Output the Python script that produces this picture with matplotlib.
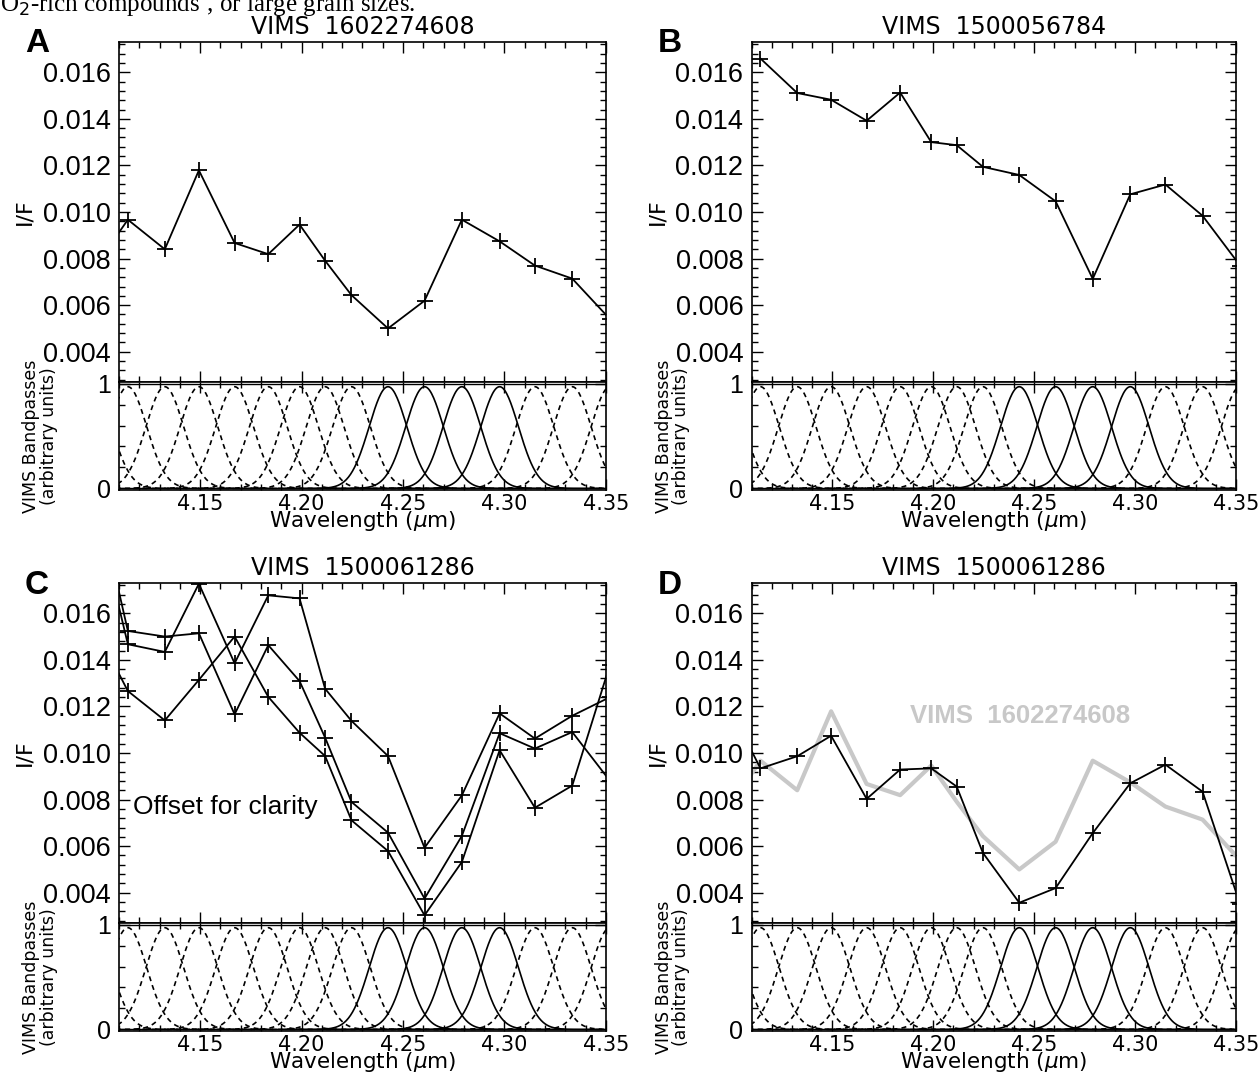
import numpy as np
import matplotlib.pyplot as plt
from matplotlib.ticker import MultipleLocator

plt.rcParams['font.family'] = ['Liberation Sans', 'DejaVu Sans']
plt.rcParams['mathtext.fontset'] = 'dejavusans'

# VIMS channel centres (um); first and last fall just outside the plotted range
wavelength = [4.0970, 4.1144, 4.1326, 4.1494, 4.1670, 4.1836, 4.1990, 4.2116,
              4.2246, 4.2426, 4.2606, 4.2790, 4.2976, 4.3150, 4.3334, 4.3520]
# which bandpasses are drawn solid (the CO2 band channels)
solid_band = [0, 0, 0, 0, 0, 0, 0, 0, 0, 1, 1, 1, 1, 0, 0, 0]

if_1602274608 = [0.0075, 0.00967, 0.0084, 0.01179, 0.00867, 0.00819, 0.00946, 0.00791,
                 0.00643, 0.0050, 0.00619, 0.00967, 0.00874, 0.0077, 0.00714, 0.0054]
if_1500056784 = [np.nan, 0.01659, 0.01511, 0.01482, 0.01392, 0.01513, 0.0130, 0.01287,
                 0.01194, 0.01159, 0.01046, 0.00713, 0.01076, 0.01118, 0.00984, 0.0077]
if_c_upper = [0.0210, 0.01467, 0.01434, 0.01727, 0.01385, 0.01677, 0.01664, 0.01276,
              0.01138, 0.00987, 0.00593, 0.00818, 0.0117, 0.01062, 0.0116, 0.0124]
if_c_middle = [0.0219, 0.01524, 0.0150, 0.01514, 0.01166, 0.01463, 0.01309, 0.01066,
               0.0079, 0.00658, 0.00375, 0.00644, 0.01085, 0.01019, 0.0109, 0.0088]
if_c_lower = [0.0156, 0.01266, 0.0114, 0.01314, 0.0150, 0.01241, 0.01087, 0.00987,
              0.00711, 0.00579, 0.00303, 0.00532, 0.01012, 0.00765, 0.0086, 0.0138]
if_1500061286 = [0.0123, 0.00934, 0.00986, 0.01074, 0.00803, 0.00929, 0.00934, 0.00856,
                 0.00571, 0.00357, 0.0042, 0.00656, 0.0087, 0.0095, 0.00834, 0.0035]

band_sigma = 0.0093
band_peak = 0.97

W, H = 1260, 1075
fig = plt.figure(figsize=(W / 100, H / 100), dpi=100)

fig.text(0.0, 1 - 11 / H, 'O$_2$-rich compounds\u2019, or large grain sizes.',
         family=['Liberation Serif', 'DejaVu Serif'], fontsize=18, va='baseline')


def set_ticks(ax):
    ax.tick_params(which='both', direction='in', top=True, right=True, width=1)
    ax.tick_params(which='major', length=8)
    ax.tick_params(which='minor', length=4)
    for s in ax.spines.values():
        s.set_linewidth(1.2)
    ax.xaxis.set_major_locator(MultipleLocator(0.05))
    ax.xaxis.set_minor_locator(MultipleLocator(0.01))


def panel(x0, w, top_px, letter, title, series, grey=None, note=None):
    up_bottom = 1 - (top_px + 340) / H
    ax = fig.add_axes([x0, up_bottom, w, 340 / H])
    bx = fig.add_axes([x0, up_bottom - 108 / H, w, 108 / H])

    if grey is not None:
        ax.plot(wavelength, grey, color='#c8c8c8', lw=3)
        ax.text(4.243, 0.0116, 'VIMS  1602274608', color='#c8c8c8', fontsize=18.5,
                weight='bold', ha='center', va='center')
    for s in series:
        ax.plot(wavelength, s, color='black', lw=1.3, marker='+', ms=11, mew=1.3)
    if note:
        ax.text(4.117, 0.0077, note, fontsize=19, va='center')

    ax.set_xlim(4.11, 4.35)
    ax.set_ylim(0.0027, 0.0173)
    ax.yaxis.set_major_locator(MultipleLocator(0.002))
    ax.yaxis.set_minor_locator(MultipleLocator(0.0004))
    ax.yaxis.set_major_formatter(plt.FormatStrFormatter('%.3f'))
    set_ticks(ax)
    ax.tick_params(axis='x', labelbottom=False)
    ax.tick_params(axis='y', labelsize=19.5, pad=6)
    ax.set_ylabel('I/F', fontsize=16, labelpad=6, family='DejaVu Sans')
    ax.set_title(title, fontsize=17, pad=6, family='DejaVu Sans')

    grid = np.linspace(-0.05, 0.05, 201)
    for c, solid in zip(wavelength, solid_band):
        prof = band_peak * np.exp(-grid ** 2 / (2 * band_sigma ** 2))
        ls = '-' if solid else (0, (3, 2.5))
        bx.plot(c + grid, prof, color='black', lw=1.2, ls=ls)
    bx.axhline(0, color='black', lw=1)
    bx.axhline(1, color='black', lw=1)
    bx.set_xlim(4.11, 4.35)
    bx.set_ylim(-0.015, 1.015)
    bx.set_yticks([0, 1])
    bx.yaxis.set_minor_locator(MultipleLocator(0.2))
    set_ticks(bx)
    bx.xaxis.set_major_formatter(plt.FormatStrFormatter('%.2f'))
    bx.tick_params(axis='x', labelsize=15, pad=3)
    bx.tick_params(axis='y', labelsize=18, pad=6)
    for lab in bx.get_xticklabels():
        lab.set_family('DejaVu Sans')
    bx.set_xlabel('Wavelength ($\\mu$m)', fontsize=15.5, labelpad=-3.5, family='DejaVu Sans')
    bx.set_ylabel('VIMS Bandpasses\n(arbitrary units)', fontsize=12.5, linespacing=0.95,
                  labelpad=28, family='DejaVu Sans')

    fig.text(x0 - 0.065, 1 - (top_px + 2) / H, letter, fontsize=24, weight='bold',
             ha='center', va='center')


panel(0.0944, 0.3865, 42, 'A', 'VIMS  1602274608', [if_1602274608])
panel(0.5965, 0.3845, 42, 'B', 'VIMS  1500056784', [if_1500056784])
panel(0.0944, 0.3865, 583, 'C', 'VIMS  1500061286', [if_c_upper, if_c_middle, if_c_lower],
      note='Offset for clarity')
panel(0.5965, 0.3845, 583, 'D', 'VIMS  1500061286', [if_1500061286], grey=if_1602274608)

fig.savefig('out.png', dpi=100)
